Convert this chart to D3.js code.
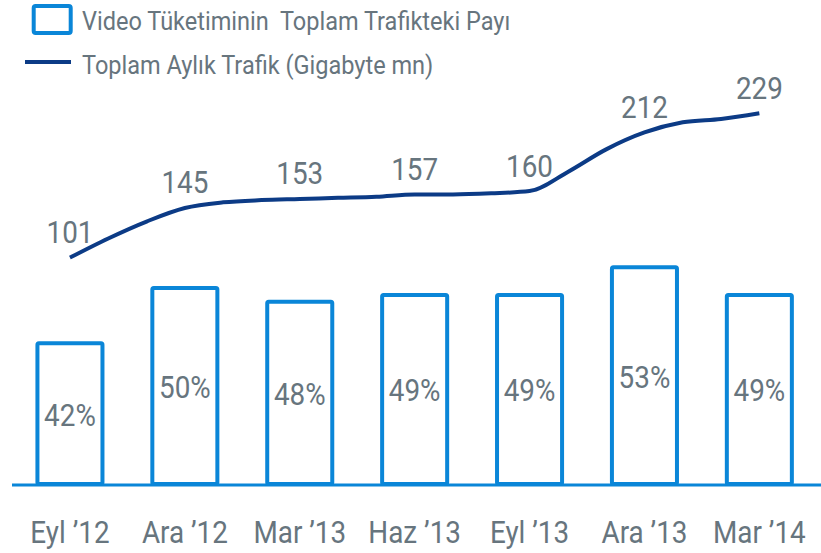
<!DOCTYPE html>
<html>
<head>
<meta charset="utf-8">
<script src="https://cdn.jsdelivr.net/npm/d3@7"></script>
<style>
  body { margin: 0; background: #fff; }
  text { font-family: Roboto, "Open Sans", sans-serif; fill: #67757e; white-space: pre; }
</style>
</head>
<body>
<div id="vis"></div>
<script>
// chart data
const QUARTERS = ["Eyl ’12", "Ara ’12", "Mar ’13", "Haz ’13", "Eyl ’13", "Ara ’13", "Mar ’14"];
const VIDEO_SHARE = [42, 50, 48, 49, 49, 53, 49];
// monthly traffic, Eyl '12 .. Mar '14 (every third month is labelled)
const MONTHS = ["Eyl12", "Eki12", "Kas12", "Ara12", "Oca13", "Şub13", "Mar13", "Nis13", "May13", "Haz13",
                "Tem13", "Ağu13", "Eyl13", "Eki13", "Kas13", "Ara13", "Oca14", "Şub14", "Mar14"];
const TRAFFIC = [101, 118, 133, 145, 150, 152, 153, 154, 155, 157, 157, 158, 160, 177, 197, 212, 221, 224, 229];
const LEGEND = ["Video Tüketiminin  Toplam Trafikteki Payı", "Toplam Aylık Trafik (Gigabyte mn)"];

const WIDTH = 821;
const HEIGHT = 553;
const BASE_Y = 484;
const COND = 0.87;   // fake condensed face
const BAR_COLOR = "#0a86d8";
const LINE_COLOR = "#0c3b86";

const svg = d3.select("#vis")
              .append("svg")
              .attr("width", WIDTH)
              .attr("height", HEIGHT);

// x scale for bars (outer padding half of inner keeps centers on the step)
const X_SCALE = d3.scaleBand()
                  .domain(QUARTERS)
                  .range([12.5, 816.8])
                  .paddingInner(0.434)
                  .paddingOuter(0.217);

const Y_BAR = d3.scaleLinear()
                .domain([21.6, 53])
                .range([BASE_Y, BASE_Y - 6.9 * (53 - 21.6)]);

// line scale: months spread across bar centers
const X_LINE = d3.scalePoint()
                 .domain(MONTHS)
                 .range([X_SCALE(QUARTERS[0]) + X_SCALE.bandwidth() / 2,
                         X_SCALE(QUARTERS[6]) + X_SCALE.bandwidth() / 2]);

const Y_LINE = d3.scaleLinear()
                 .domain([101, 229])
                 .range([257.6, 113.3]);

// bars
svg.selectAll(".bar")
   .data(VIDEO_SHARE)
   .enter()
   .append("rect")
   .attr("class", "bar")
   .attr("x", (d, i) => X_SCALE(QUARTERS[i]))
   .attr("y", d => Y_BAR(d))
   .attr("width", X_SCALE.bandwidth())
   .attr("height", d => BASE_Y - Y_BAR(d))
   .attr("rx", 1.5)
   .attr("fill", "none")
   .attr("stroke", BAR_COLOR)
   .attr("stroke-width", 4);

// bar labels
svg.selectAll(".barlabel")
   .data(VIDEO_SHARE)
   .enter()
   .append("text")
   .attr("transform", (d, i) => {
      const cx = X_SCALE(QUARTERS[i]) + X_SCALE.bandwidth() / 2;
      const cy = (Y_BAR(d) + BASE_Y) / 2 + 12;
      return "translate(" + cx + "," + cy + ") scale(" + COND + ",1)";
   })
   .attr("text-anchor", "middle")
   .attr("font-size", 32)
   .text(d => d + "%");

// x axis
const xAxis = svg.append("g")
                 .attr("transform", "translate(0," + (BASE_Y + 1) + ")")
                 .call(d3.axisBottom(X_SCALE).tickSize(0).tickPadding(0));
xAxis.select(".domain")
     .attr("d", "M12,0H821")
     .attr("stroke", BAR_COLOR)
     .attr("stroke-width", 3);
xAxis.selectAll(".tick text")
     .attr("y", 0)
     .attr("dy", 0)
     .attr("transform", "translate(0,58) scale(" + COND + ",1)")
     .attr("font-size", 32)
     .attr("font-family", "Roboto")
     .attr("fill", "#67757e");

// traffic line
const line = d3.line()
               .x((d, i) => X_LINE(MONTHS[i]))
               .y(d => Y_LINE(d))
               .curve(d3.curveMonotoneX);

svg.append("path")
   .datum(TRAFFIC)
   .attr("d", line)
   .attr("fill", "none")
   .attr("stroke", LINE_COLOR)
   .attr("stroke-width", 4);

// quarter labels on the line
const labelled = TRAFFIC.map((d, i) => ({ m: MONTHS[i], v: d })).filter((d, i) => i % 3 === 0);
svg.selectAll(".linelabel")
   .data(labelled)
   .enter()
   .append("text")
   .attr("transform", d => "translate(" + X_LINE(d.m) + "," + (Y_LINE(d.v) - 14.5) + ") scale(" + COND + ",1)")
   .attr("text-anchor", "middle")
   .attr("font-size", 32)
   .text(d => d.v);

// legend
svg.append("rect")
   .attr("x", 33.7).attr("y", 6)
   .attr("width", 37).attr("height", 27)
   .attr("rx", 2)
   .attr("fill", "none")
   .attr("stroke", BAR_COLOR)
   .attr("stroke-width", 4);
svg.append("line")
   .attr("x1", 25).attr("x2", 71)
   .attr("y1", 62).attr("y2", 62)
   .attr("stroke", LINE_COLOR)
   .attr("stroke-width", 4);
svg.selectAll(".legendtext")
   .data(LEGEND)
   .enter()
   .append("text")
   .attr("transform", (d, i) => "translate(82," + (30 + i * 43.5) + ") scale(0.905,1)")
   .attr("font-size", 26)
   .text(d => d);
</script>
</body>
</html>
